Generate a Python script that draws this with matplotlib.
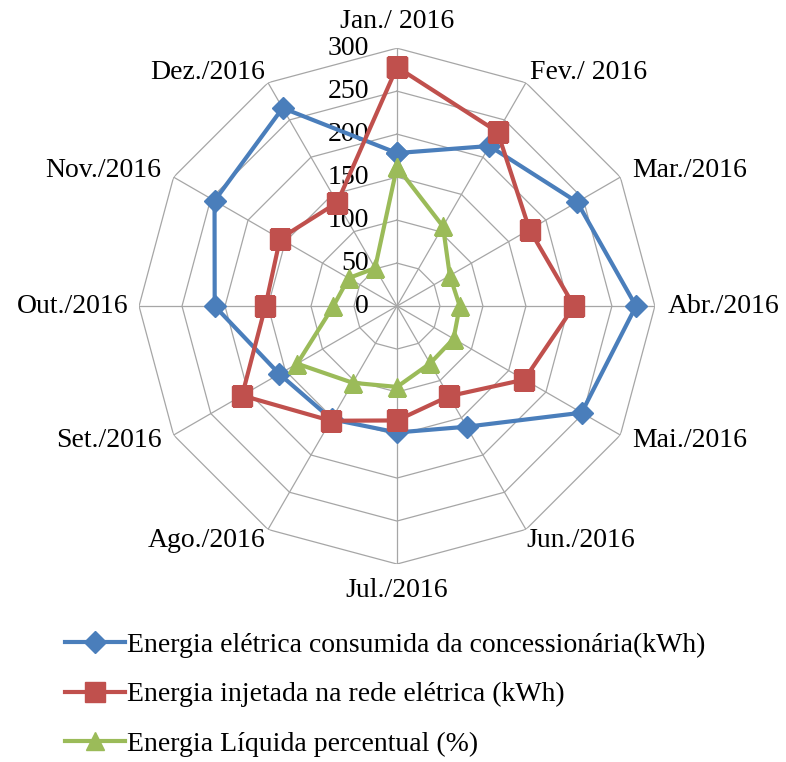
import numpy as np
import matplotlib.pyplot as plt

plt.rcParams['font.family'] = ['Liberation Serif', 'DejaVu Serif']

# months, clockwise from the top
months = ["Jan./ 2016", "Fev./ 2016", "Mar./2016", "Abr./2016", "Mai./2016", "Jun./2016",
          "Jul./2016", "Ago./2016", "Set./2016", "Out./2016", "Nov./2016", "Dez./2016"]
consumida = [178, 215, 242, 278, 248, 162, 147, 152, 158, 212, 245, 266]
injetada = [278, 234, 178, 206, 171, 121, 133, 154, 208, 153, 157, 139]
liquida = [162, 107, 71, 73, 76, 77, 94, 103, 134, 74, 65, 51]
rings = [50, 100, 150, 200, 250, 300]
ring_labels = [0, 50, 100, 150, 200, 250, 300]

n = len(months)
theta = np.arange(n) * 2 * np.pi / n
closed = np.append(theta, theta[0])

fig = plt.figure(figsize=(7.86, 7.62), dpi=100)
ax = fig.add_axes([0.1768, 0.2598, 0.6565, 0.677], projection='polar')
ax.set_theta_zero_location('N')
ax.set_theta_direction(-1)
ax.set_ylim(0, 300)
ax.set_xticks([])
ax.set_yticks([])
ax.grid(False)
ax.spines['polar'].set_visible(False)
ax.patch.set_visible(False)

# polygon grid and spokes
gc = '#a6a6a6'
for r in rings:
    ax.plot(closed, [r] * (n + 1), color=gc, lw=0.9, zorder=1)
for t in theta:
    ax.plot([t, t], [0, 300], color=gc, lw=0.9, zorder=1)

fs = 20
# radial value labels
for v in ring_labels:
    ax.annotate(str(v), xy=(0, v), xytext=(-28, 0), textcoords='offset pixels',
                ha='right', va='center', fontsize=fs)

# month labels
place = [('center', 'bottom', 0, 14), ('left', 'center', 4, 10), ('left', 'center', 12, 7),
         ('left', 'center', 13, 0), ('left', 'center', 12, -5), ('left', 'center', 0, -11),
         ('center', 'top', 0, -14), ('right', 'center', -3, -11), ('right', 'center', -12, -5),
         ('right', 'center', -11, 0), ('right', 'center', -12, 7), ('right', 'center', -3, 10)]
for t, lab, (ha, va, dx, dy) in zip(theta, months, place):
    ax.annotate(lab, xy=(t, 300), xytext=(dx, dy), textcoords='offset pixels',
                ha=ha, va=va, fontsize=fs)

blue, red, green = '#4a7ebb', '#c0504d', '#9bbb59'
l1, = ax.plot(closed, consumida + consumida[:1], color=blue, lw=3, marker='D', ms=11, zorder=3,
              label='Energia elétrica consumida da concessionária(kWh)')
l2, = ax.plot(closed, injetada + injetada[:1], color=red, lw=3, marker='s', ms=14, zorder=3,
              label='Energia injetada na rede elétrica (kWh)')
l3, = ax.plot(closed, liquida + liquida[:1], color=green, lw=3, marker='^', ms=13, zorder=3,
              label='Energia Líquida percentual (%)')

fig.legend(handles=[l1, l2, l3], loc='upper left', bbox_to_anchor=(0.083, 0.170),
           frameon=False, fontsize=fs, handlelength=2.15, handletextpad=0.08,
           labelspacing=0.86, borderaxespad=0, borderpad=0)

fig.savefig('out.png', dpi=100)
